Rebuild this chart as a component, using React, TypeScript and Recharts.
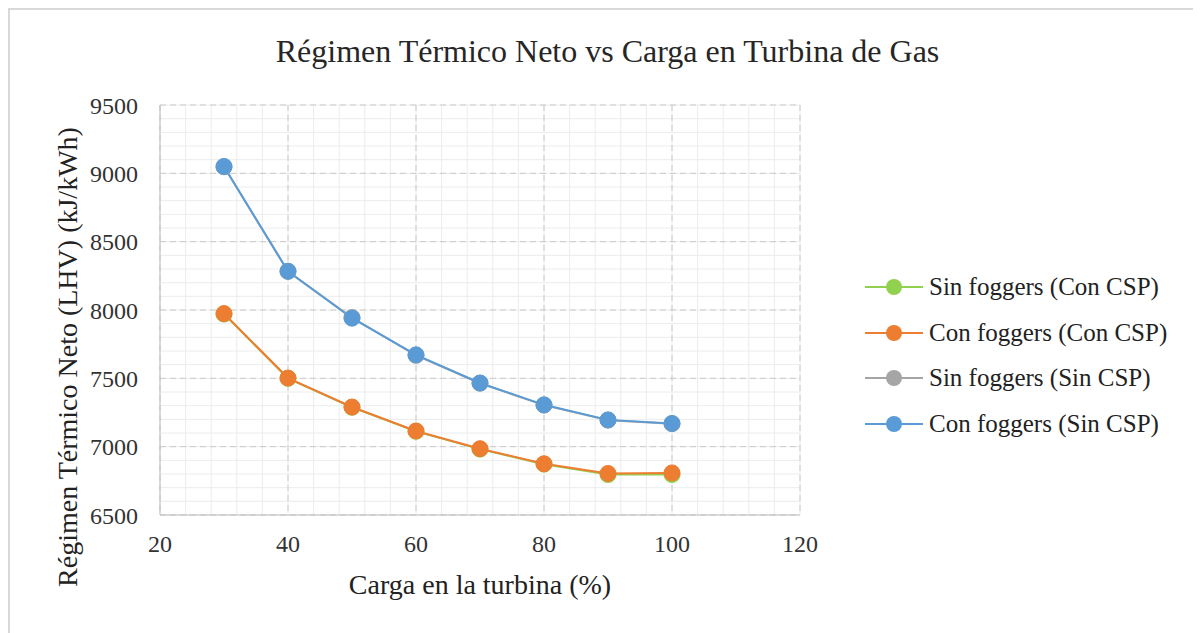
import React from "react";
import {
  LineChart,
  Line,
  XAxis,
  YAxis,
  CartesianGrid,
  Legend,
} from "recharts";

const carga = [30, 40, 50, 60, 70, 80, 90, 100];
const sinFoggersConCsp = [7970, 7500, 7288, 7112, 6982, 6872, 6796, 6796];
const conFoggersConCsp = [7974, 7502, 7290, 7115, 6985, 6875, 6804, 6808];
const sinFoggersSinCsp = [9048, 8282, 7945, 7668, 7464, 7304, 7194, 7168];
const conFoggersSinCsp = [9050, 8284, 7940, 7672, 7466, 7306, 7196, 7170];

const xTicks = [20, 40, 60, 80, 100, 120];
const yTicks = [6500, 7000, 7500, 8000, 8500, 9000, 9500];

const series = [
  { key: "sfc", name: "Sin foggers (Con CSP)", color: "#92D050", values: sinFoggersConCsp },
  { key: "cfc", name: "Con foggers (Con CSP)", color: "#ED7D31", values: conFoggersConCsp },
  { key: "sfs", name: "Sin foggers (Sin CSP)", color: "#A5A5A5", values: sinFoggersSinCsp },
  { key: "cfs", name: "Con foggers (Sin CSP)", color: "#5B9BD5", values: conFoggersSinCsp },
];

const data = carga.map((c, i) => {
  const row: Record<string, number> = { carga: c };
  series.forEach((s) => (row[s.key] = s.values[i]));
  return row;
});

const FONT = '"Liberation Serif", "Times New Roman", serif';

// minor grid every 4 % on x and every 100 on y
const minorX: number[] = [];
for (let v = 20; v <= 120; v += 4) minorX.push(v);
const minorY: number[] = [];
for (let v = 6500; v <= 9500; v += 100) minorY.push(v);

const vertMinor = ({ offset }: any) =>
  minorX.map((v) => offset.left + ((v - 20) / 100) * offset.width);
const horzMinor = ({ offset }: any) =>
  minorY.map((v) => offset.top + ((9500 - v) / 3000) * offset.height);

const LegendBox = () => (
  <div style={{ fontFamily: FONT, fontSize: 25, color: "#222", whiteSpace: "nowrap" }}>
    {series.map((s) => (
      <div key={s.key} style={{ display: "flex", alignItems: "center", height: 45.7 }}>
        <svg width={58} height={20} style={{ marginRight: 6, flexShrink: 0 }}>
          <line x1={0} y1={10} x2={58} y2={10} stroke={s.color} strokeWidth={2} />
          <circle cx={29} cy={10} r={8} fill={s.color} />
        </svg>
        <span>{s.name}</span>
      </div>
    ))}
  </div>
);

export default function App() {
  return (
    <div
      style={{
        position: "relative",
        width: 1193,
        height: 625,
        boxSizing: "border-box",
        borderTop: "2px solid #d9d9d9",
        borderLeft: "2px solid #d9d9d9",
        background: "#fff",
      }}
    >
      <div
        style={{
          position: "absolute",
          left: 0,
          width: 1195,
          top: 23,
          textAlign: "center",
          fontFamily: FONT,
          fontSize: 32,
          color: "#262626",
          lineHeight: "36px",
        }}
      >
        Régimen Térmico Neto vs Carga en Turbina de Gas
      </div>
      <LineChart
        width={1191}
        height={623}
        data={data}
        margin={{ top: 95, right: 6, bottom: 38, left: 90 }}
      >
        <CartesianGrid
          stroke="#ececec"
          strokeWidth={1}
          verticalCoordinatesGenerator={vertMinor}
          horizontalCoordinatesGenerator={horzMinor}
        />
        <CartesianGrid stroke="#cacaca" strokeDasharray="6 4" strokeWidth={1} />
        <XAxis
          dataKey="carga"
          type="number"
          domain={[20, 120]}
          ticks={xTicks}
          height={80}
          tickLine={false}
          axisLine={{ stroke: "#bfbfbf" }}
          tickMargin={14}
          tick={{ fontFamily: FONT, fontSize: 24, fill: "#333" }}
          label={{
            content: ({ viewBox }: any) => (
              <text
                x={viewBox.x + viewBox.width / 2}
                y={viewBox.y + 79}
                textAnchor="middle"
                fontFamily={FONT}
                fontSize={28}
                fill="#222"
              >
                Carga en la turbina (%)
              </text>
            ),
          }}
        />
        <YAxis
          type="number"
          domain={[6500, 9500]}
          ticks={yTicks}
          width={60}
          tickLine={false}
          axisLine={{ stroke: "#bfbfbf" }}
          tickMargin={16}
          tick={{ fontFamily: FONT, fontSize: 24, fill: "#333" }}
          label={{
            content: ({ viewBox }: any) => {
              const x = viewBox.x - 33;
              const y = viewBox.y + viewBox.height / 2 + 47;
              return (
                <text
                  x={x}
                  y={y}
                  textAnchor="middle"
                  dominantBaseline="central"
                  transform={`rotate(-90, ${x}, ${y})`}
                  fontFamily={FONT}
                  fontSize={28}
                  fill="#222"
                >
                  Régimen Térmico Neto (LHV) (kJ/kWh)
                </text>
              );
            },
          }}
        />
        <Legend
          layout="vertical"
          align="right"
          verticalAlign="top"
          content={<LegendBox />}
          wrapperStyle={{ width: 395, paddingLeft: 65, boxSizing: "border-box", top: 254 }}
        />
        {series.map((s) => (
          <Line
            key={s.key}
            dataKey={s.key}
            name={s.name}
            stroke={s.color}
            strokeWidth={2}
            dot={{ r: 8, fill: s.color, stroke: s.color, strokeWidth: 1 }}
            activeDot={false}
            isAnimationActive={false}
          />
        ))}
      </LineChart>
    </div>
  );
}
